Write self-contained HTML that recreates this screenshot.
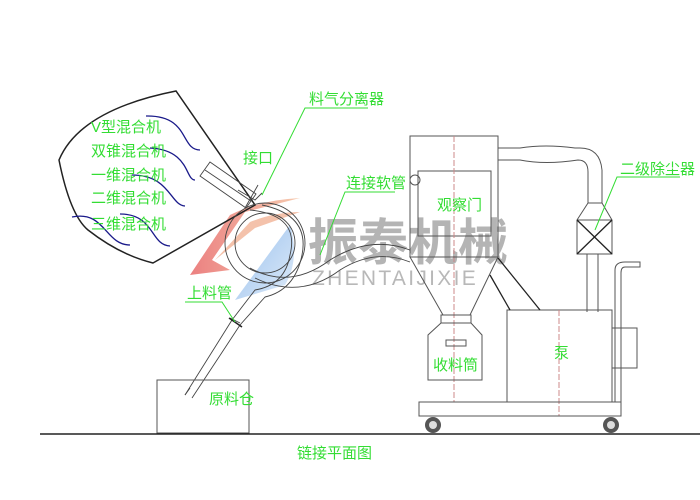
<!DOCTYPE html>
<html><head><meta charset="utf-8"><style>
html,body{margin:0;padding:0;background:#fff;}
svg{display:block}
.g{fill:#33dd33;font-family:"Liberation Sans","Noto Sans CJK SC",sans-serif;font-size:15px;}
</style></head><body>
<svg width="700" height="500" viewBox="0 0 700 500" xmlns="http://www.w3.org/2000/svg">
<defs>
<linearGradient id="bl" x1="0" y1="0" x2="1" y2="1"><stop offset="0" stop-color="#7fb0e8"/><stop offset="1" stop-color="#d6e6f8"/></linearGradient>
<linearGradient id="rd" x1="0" y1="0" x2="1" y2="0"><stop offset="0" stop-color="#e86a6a"/><stop offset="1" stop-color="#f4c0a0"/></linearGradient>
</defs>
<path d="M190,275 L230,215 Q260,200 300,198 L245,212 L212,260 L230,270 Z" fill="url(#rd)" opacity="0.85"/>
<path d="M215,260 L250,222 Q275,212 300,212 L255,228 Z" fill="#f0a888" opacity="0.7"/>
<path d="M235,300 L290,225 Q300,260 285,285 Z" fill="url(#bl)" opacity="0.8"/>
<text x="308" y="260" font-family="'Noto Sans CJK SC',sans-serif" font-weight="bold" font-size="50" fill="#a8a8a8" opacity="0.85">振泰机械</text>
<text x="312" y="285" font-family="'Liberation Sans',sans-serif" font-size="21" fill="#b8b8b8" letter-spacing="2.3">ZHENTAIJIXIE</text>

<g fill="none" stroke="#222" stroke-width="1.5">
<path d="M176,91 Q80,110 59,160 Q70,215 88,230 Q120,255 153,263 L255,205 Z"/>
</g>
<g fill="none" stroke="#1a1a8a" stroke-width="1.3">
<path d="M146,116 C190,115 180,150 200,150"/>
<path d="M150,148 C190,150 185,180 195,180"/>
<path d="M132,175 C170,175 170,205 185,206"/>
<path d="M72,217 C105,210 105,245 130,245"/>
<path d="M120,214 C155,214 150,245 170,246"/>
</g>
<text class="g" x="91" y="132">V型混合机</text>
<text class="g" x="91" y="156">双锥混合机</text>
<text class="g" x="91" y="180">一维混合机</text>
<text class="g" x="91" y="203">二维混合机</text>
<text class="g" x="91" y="229">三维混合机</text>

<g fill="none" stroke="#444" stroke-width="0.9">
<path d="M200,176 L210,162 L256,194 L246,208 Z"/>
<path d="M205,170 L251,201"/>
<path d="M238,190 L255,200 L262,193"/>
<path d="M258,185 L245,208"/>
<circle cx="265" cy="243" r="40"/>
<circle cx="265" cy="243" r="30"/>
<path d="M250,210 Q300,215 290,255 Q285,285 255,290 L232,320 L185,395"/>
<path d="M262,205 Q310,215 302,255 Q295,290 265,297 L240,325 L192,398"/>
<path d="M185,395 L190,388 M230,318 L240,323"/>
<path d="M250,268 Q290,290 330,260 Q370,235 410,250"/>
<path d="M255,278 Q300,300 340,270 Q375,248 410,262"/>
</g>
<line x1="229" y1="318" x2="242" y2="327" stroke="#222" stroke-width="1.5"/>
<rect x="157" y="380" width="92" height="53" fill="none" stroke="#555" stroke-width="1"/>
<line x1="40" y1="434" x2="700" y2="434" stroke="#222" stroke-width="1.5"/>

<g fill="none" stroke="#555" stroke-width="1">
<rect x="410" y="136" width="88" height="121"/>
<rect x="418" y="171" width="73" height="65"/>
<circle cx="415" cy="180" r="5"/>
<line x1="454" y1="136" x2="454" y2="402" stroke="#c88" stroke-dasharray="6,2"/>
<path d="M410,257 L498,257 L470,315 L443,315 Z"/>
<rect x="441" y="315" width="30" height="8"/>
<path d="M441,323 L471,323 L482,335 L482,380 L428,380 L428,335 Z"/>
<rect x="446" y="340" width="20" height="6"/>
<rect x="507" y="310" width="105" height="92"/>
<line x1="559" y1="310" x2="559" y2="416" stroke="#c88" stroke-dasharray="6,2"/>
<rect x="612" y="328" width="25" height="40"/>
<rect x="419" y="402" width="202" height="14"/>
<path d="M498,148 L520,148 Q545,144 575,148 L580,148 Q600,148 602,170 L602,203 L588,203 L588,172 Q588,160 578,160 Q545,165 520,160 L498,160"/>
<path d="M588,203 L602,203 L612,220 L612,254 L577,254 L577,220 Z"/>
<line x1="577" y1="220" x2="612" y2="220"/>
<line x1="587" y1="254" x2="587" y2="312"/><line x1="598" y1="254" x2="598" y2="312"/>
<path d="M615,402 L615,270 Q615,262 625,262 L640,262 L640,267 L625,267 Q621,267 621,273 L621,402"/>
</g>
<g stroke="#222" stroke-width="1.3">
<line x1="577" y1="220" x2="612" y2="254"/><line x1="612" y1="220" x2="577" y2="254"/>
<line x1="498" y1="258" x2="540" y2="310"/><line x1="490" y1="275" x2="510" y2="310"/>
</g>
<g fill="#555"><circle cx="433" cy="425" r="8"/><circle cx="611" cy="425" r="8"/></g>
<g fill="#ddd"><circle cx="433" cy="425" r="4"/><circle cx="611" cy="425" r="4"/></g>

<g fill="none" stroke="#33dd33" stroke-width="1">
<path d="M368,108 L305,108 L262,195"/>
<path d="M395,192 L345,192 L320,255"/>
<path d="M185,302 L222,302 L235,322"/>
<path d="M680,177 L617,177 L595,230"/>
</g>
<text class="g" x="309" y="104">料气分离器</text>
<text class="g" x="243" y="163">接口</text>
<text class="g" x="346" y="188">连接软管</text>
<text class="g" x="187" y="298">上料管</text>
<text class="g" x="209" y="404">原料仓</text>
<text class="g" x="437" y="210">观察门</text>
<text class="g" x="433" y="370">收料筒</text>
<text class="g" x="554" y="358">泵</text>
<text class="g" x="620" y="174">二级除尘器</text>
<text class="g" x="297" y="458">链接平面图</text>
</svg>
</body></html>
